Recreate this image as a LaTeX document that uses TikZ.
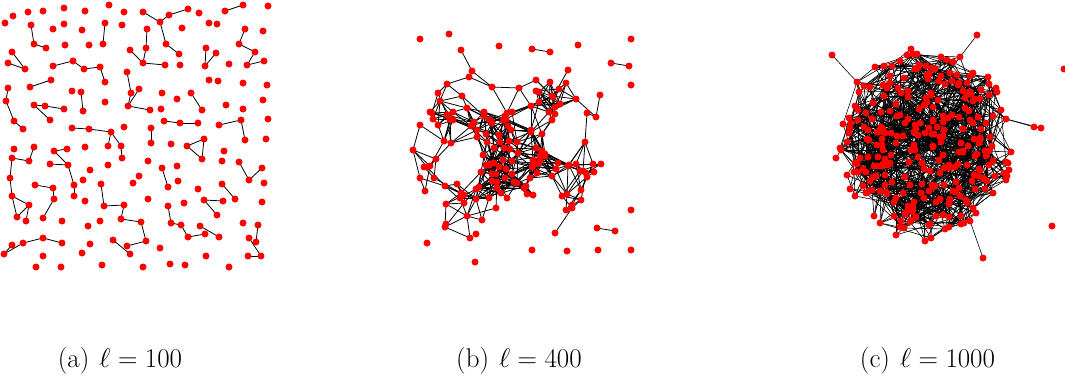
\RequirePackage{fix-cm}
\documentclass[tikz,border=0pt]{standalone}
\usepackage{fontspec}
\definecolor{dotred}{RGB}{255,0,0}
\tikzset{
  dotfill/.style={fill=dotred},
  link/.style={draw=black, line width=0.8pt},
  denselink/.style={draw=black, line width=0.6pt},
  captext/.style={anchor=base, inner sep=0pt, font=\fontsize{27}{32}\selectfont},
}
\newcommand\setpt[4]{%
  \expandafter\xdef\csname #1x#2\endcsname{#3}%
  \expandafter\xdef\csname #1y#2\endcsname{#4}%
  \coordinate (#1#2) at (#3,#4);}
\newcommand\tryedge[6]{%
  \edef\dx{\the\numexpr\csname #1x#2\endcsname-\csname #1x#3\endcsname\relax}%
  \edef\dy{\the\numexpr\csname #1y#2\endcsname-\csname #1y#3\endcsname\relax}%
  \ifnum\numexpr\dx*\dx+\dy*\dy\relax<\numexpr#4*#4\relax
    \pgfmathsetmacro{\rr}{rnd}%
    \ifdim\rr pt<#5pt \draw[#6] (#1#2) -- (#1#3);\fi
  \fi}
\newcommand\alledges[5]{%
  \foreach \i in {1,...,#2}{%
    \pgfmathtruncatemacro{\istart}{\i+1}%
    \ifnum\istart>#2\relax\else
      \foreach \j in {\istart,...,#2}{\tryedge{#1}{\i}{\j}{#3}{#4}{#5}}%
    \fi}}
\newcommand\findnearest[4]{%
  \gdef\bestd{100000000}\gdef\bestidx{1}%
  \foreach \j in {1,...,#2}{%
    \edef\dx{\the\numexpr\csname #1x\j\endcsname-#3\relax}%
    \edef\dy{\the\numexpr\csname #1y\j\endcsname-#4\relax}%
    \ifnum\numexpr\dx*\dx+\dy*\dy\relax<\bestd\relax
      \xdef\bestd{\the\numexpr\dx*\dx+\dy*\dy\relax}\xdef\bestidx{\j}\fi}}
\begin{document}
\begin{tikzpicture}[x=1pt,y=-1pt]
\useasboundingbox (0,0) rectangle (1065,386);
% ---------------- panel (a)
\pgfmathsetseed{11}
\foreach \r in {0,...,13}{
  \foreach \c in {0,...,13}{
    \pgfmathtruncatemacro{\k}{\r*14+\c}
    \pgfmathtruncatemacro{\xx}{11+\c*19.3+14*(rnd-0.5)}
    \pgfmathtruncatemacro{\yy}{10+\r*19.3+14*(rnd-0.5)}
    \setpt{a}{\k}{\xx}{\yy}
  }
}
\foreach \r in {0,...,13}{
  \foreach \c in {0,...,13}{
    \pgfmathtruncatemacro{\k}{\r*14+\c}
    \pgfmathtruncatemacro{\kr}{\k+1}
    \pgfmathtruncatemacro{\kd}{\k+14}
    \pgfmathtruncatemacro{\kdr}{\k+15}
    \pgfmathtruncatemacro{\kdl}{\k+13}
    \ifnum\c<13 \tryedge{a}{\k}{\kr}{23}{0.27}{link}\fi
    \ifnum\r<13 \tryedge{a}{\k}{\kd}{23}{0.27}{link}%
      \ifnum\c<13 \tryedge{a}{\k}{\kdr}{23}{0.27}{link}\fi
      \ifnum\c>0 \tryedge{a}{\k}{\kdl}{23}{0.27}{link}\fi
    \fi
  }
}
\foreach \k in {0,...,195}{\fill[dotfill] (a\k) circle (3.5pt);}
% ---------------- panel (b)
\pgfmathsetseed{5}
\foreach \i in {1,...,25}{
  \pgfmathsetmacro{\ang}{360*rnd}
  \pgfmathsetmacro{\rad}{sqrt(rnd)}
  \pgfmathtruncatemacro{\xx}{512+30*\rad*cos(\ang)}
  \pgfmathtruncatemacro{\yy}{150+48*\rad*sin(\ang)}
  \setpt{b}{\i}{\xx}{\yy}
}
\foreach \i in {26,...,88}{
  \pgfmathsetmacro{\ang}{360*rnd}
  \pgfmathsetmacro{\rad}{0.3+0.7*rnd}
  \pgfmathtruncatemacro{\xx}{465+50*\rad*cos(\ang)}
  \pgfmathtruncatemacro{\yy}{155+85*\rad*sin(\ang)}
  \setpt{b}{\i}{\xx}{\yy}
}
\foreach \i in {89,...,150}{
  \pgfmathsetmacro{\ang}{360*rnd}
  \pgfmathsetmacro{\rad}{0.3+0.7*rnd}
  \pgfmathtruncatemacro{\xx}{560+58*\rad*cos(\ang)}
  \pgfmathtruncatemacro{\yy}{140+72*\rad*sin(\ang)}
  \setpt{b}{\i}{\xx}{\yy}
}
\setpt{b}{151}{449}{34}
\setpt{b}{152}{461}{50}
\setpt{b}{153}{475}{262}
\setpt{b}{154}{567}{251}
\setpt{b}{155}{555}{233}
\setpt{b}{156}{413}{150}
\alledges{b}{156}{31}{0.45}{link}
% isolated points and pairs of (b)
\foreach \n/\xx/\yy in {1/420/39, 2/499/46, 3/532/49, 4/550/52, 5/578/45, 6/631/39,
  7/611/63, 8/629/66, 9/631/85, 10/427/243, 11/446/224, 12/532/250, 13/598/250,
  14/631/250, 15/631/210, 16/597/228, 17/615/231}{\setpt{bi}{\n}{\xx}{\yy}}
\draw[link] (bi3) -- (bi4);
\draw[link] (bi7) -- (bi8);
\draw[link] (bi16) -- (bi17);
\foreach \k in {1,...,156}{\fill[dotfill] (b\k) circle (3.5pt);}
\foreach \k in {1,...,17}{\fill[dotfill] (bi\k) circle (3.5pt);}
% ---------------- panel (c)
\pgfmathsetseed{123}
\foreach \i in {1,...,285}{
  \pgfmathsetmacro{\ang}{360*rnd}
  \pgfmathsetmacro{\rad}{pow(0.001+rnd,0.55)}
  \pgfmathtruncatemacro{\xx}{927+88*\rad*cos(\ang)}
  \pgfmathtruncatemacro{\yy}{143+100*\rad*sin(\ang)}
  \setpt{c}{\i}{\xx}{\yy}
}
\alledges{c}{285}{60}{0.12}{denselink}
% outlying points of (c), each tied to its nearest neighbour
\foreach \n/\xx/\yy in {1/1041/128, 2/1034/127, 3/832/55, 4/836/158, 5/983/258, 6/977/35}{%
  \setpt{co}{\n}{\xx}{\yy}
  \findnearest{c}{285}{\xx}{\yy}
  \draw[denselink] (co\n) -- (c\bestidx);
}
\draw[denselink] (co1) -- (co2);
\setpt{ci}{1}{1052}{226}
\setpt{ci}{2}{1064}{69}
\foreach \k in {1,...,285}{\fill[dotfill] (c\k) circle (3.5pt);}
\foreach \k in {1,...,6}{\fill[dotfill] (co\k) circle (3.5pt);}
\foreach \k in {1,2}{\fill[dotfill] (ci\k) circle (3.5pt);}
% ---------------- captions
\node[captext] (capa) at (120,367) {(a)\hskip 10pt$\ell = 100$};
\node[captext] (capb) at (519,367) {(b)\hskip 10pt$\ell = 400$};
\node[captext] (capc) at (927.5,367) {(c)\hskip 10pt$\ell = 1000$};
\end{tikzpicture}
\end{document}
